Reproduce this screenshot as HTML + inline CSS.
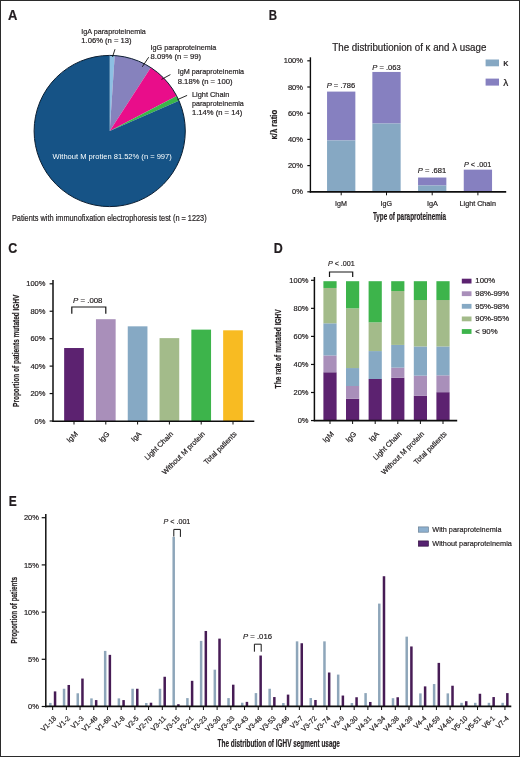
<!DOCTYPE html>
<html><head><meta charset="utf-8"><style>
html,body{margin:0;padding:0;background:#fff;}
svg{display:block;}
text{font-family:"Liberation Sans",sans-serif;stroke:#231f20;stroke-width:0.2px;}
</style></head><body>
<svg width="520" height="757" viewBox="0 0 520 757">
<defs><filter id="sf" x="0" y="0" width="520" height="757" filterUnits="userSpaceOnUse"><feGaussianBlur stdDeviation="0.28"/></filter></defs>
<rect x="0" y="0" width="520" height="757" fill="#fff"/>
<g filter="url(#sf)">
<rect x="0" y="0" width="520" height="757" fill="#fff"/>
<text transform="translate(8.10,19.80) scale(0.9300,1)" font-size="14" font-weight="bold" font-style="normal" fill="#231f20" >A</text>
<text transform="translate(268.80,19.80) scale(0.8211,1)" font-size="14" font-weight="bold" font-style="normal" fill="#231f20" >B</text>
<text transform="translate(8.30,253.10) scale(0.8904,1)" font-size="14" font-weight="bold" font-style="normal" fill="#231f20" >C</text>
<text transform="translate(273.70,252.80) scale(0.8904,1)" font-size="14" font-weight="bold" font-style="normal" fill="#231f20" >D</text>
<text transform="translate(8.80,506.40) scale(0.8567,1)" font-size="14" font-weight="bold" font-style="normal" fill="#231f20" >E</text>
<path d="M109.70,131.00 L109.70,55.40 A75.6,75.6 0 0 1 114.73,55.57 Z" fill="#8dbfe3"/>
<path d="M109.70,131.00 L114.73,55.57 A75.6,75.6 0 0 1 150.81,67.55 Z" fill="#8682bd"/>
<path d="M109.70,131.00 L150.81,67.55 A75.6,75.6 0 0 1 176.69,95.96 Z" fill="#e9108a"/>
<path d="M109.70,131.00 L176.69,95.96 A75.6,75.6 0 0 1 179.03,100.84 Z" fill="#3bb54a"/>
<path d="M109.70,131.00 L179.03,100.84 A75.6,75.6 0 1 1 109.70,55.40 Z" fill="#125386"/>
<circle cx="109.7" cy="131.0" r="75.6" fill="none" stroke="#0e1f33" stroke-width="1"/>
<line x1="115.00" y1="49.20" x2="112.50" y2="56.90" stroke="#111111" stroke-width="0.9"/>
<line x1="148.70" y1="57.20" x2="142.30" y2="66.80" stroke="#111111" stroke-width="0.9"/>
<line x1="170.40" y1="74.60" x2="161.50" y2="79.40" stroke="#111111" stroke-width="0.9"/>
<line x1="187.10" y1="95.40" x2="177.50" y2="99.60" stroke="#111111" stroke-width="0.9"/>
<text transform="translate(81.30,33.80) scale(0.9007,1)" font-size="8.0" font-weight="normal" font-style="normal" fill="#231f20" >IgA paraproteinemia</text>
<text transform="translate(81.30,42.70) scale(0.9564,1)" font-size="8.0" font-weight="normal" font-style="normal" fill="#231f20" >1.06% (n = 13)</text>
<text transform="translate(150.60,49.90) scale(0.9035,1)" font-size="8.0" font-weight="normal" font-style="normal" fill="#231f20" >IgG paraproteinemia</text>
<text transform="translate(150.60,59.20) scale(0.9602,1)" font-size="8.0" font-weight="normal" font-style="normal" fill="#231f20" >8.09% (n = 99)</text>
<text transform="translate(177.70,74.40) scale(0.9063,1)" font-size="8.0" font-weight="normal" font-style="normal" fill="#231f20" >IgM paraproteinemia</text>
<text transform="translate(177.70,83.50) scale(0.9623,1)" font-size="8.0" font-weight="normal" font-style="normal" fill="#231f20" >8.18% (n = 100)</text>
<text transform="translate(191.90,96.90) scale(0.9266,1)" font-size="8.0" font-weight="normal" font-style="normal" fill="#231f20" >Light Chain</text>
<text transform="translate(191.90,106.20) scale(0.8977,1)" font-size="8.0" font-weight="normal" font-style="normal" fill="#231f20" >paraproteinemia</text>
<text transform="translate(191.90,115.20) scale(0.9564,1)" font-size="8.0" font-weight="normal" font-style="normal" fill="#231f20" >1.14% (n = 14)</text>
<text transform="translate(52.50,159.25) scale(0.9446,1)" font-size="8.0" font-weight="normal" font-style="normal" fill="#ffffff" style="stroke:none">Without M protien 81.52% (n = 997)</text>
<text transform="translate(11.90,220.90) scale(0.8552,1)" font-size="8.6" font-weight="normal" font-style="normal" fill="#231f20" >Patients with immunofixation electrophoresis test (n = 1223)</text>
<text transform="translate(332.30,50.80) scale(0.9767,1)" font-size="10" font-weight="normal" font-style="normal" fill="#231f20" >The distributionion of κ and λ usage</text>
<rect x="485.60" y="59.50" width="13.40" height="6.80" fill="#86a8c3"/>
<text transform="translate(503.20,66.00) scale(1.1067,1)" font-size="9" font-weight="normal" font-style="normal" fill="#231f20" >κ</text>
<rect x="485.60" y="78.60" width="13.40" height="7.00" fill="#8680c0"/>
<text transform="translate(503.20,85.80) scale(1.1111,1)" font-size="9" font-weight="normal" font-style="normal" fill="#231f20" >λ</text>
<rect x="327.05" y="91.59" width="28.30" height="48.86" fill="#8680c0"/>
<rect x="327.05" y="140.45" width="28.30" height="51.65" fill="#86a8c3"/>
<rect x="372.35" y="71.94" width="28.30" height="51.61" fill="#8680c0"/>
<rect x="372.35" y="123.55" width="28.30" height="68.55" fill="#86a8c3"/>
<rect x="418.05" y="177.52" width="28.30" height="7.99" fill="#8680c0"/>
<rect x="418.05" y="185.51" width="28.30" height="6.59" fill="#86a8c3"/>
<rect x="463.75" y="169.66" width="28.30" height="22.14" fill="#8680c0"/>
<line x1="310.40" y1="57.30" x2="310.40" y2="192.60" stroke="#111111" stroke-width="1.4"/>
<line x1="309.80" y1="191.90" x2="506.20" y2="191.90" stroke="#111111" stroke-width="1.6"/>
<line x1="307.30" y1="60.80" x2="310.40" y2="60.80" stroke="#111111" stroke-width="1.2"/>
<text transform="translate(283.71,63.40) scale(1.0000,1)" font-size="7.5" font-weight="normal" font-style="normal" fill="#231f20" >100%</text>
<line x1="307.30" y1="87.00" x2="310.40" y2="87.00" stroke="#111111" stroke-width="1.2"/>
<text transform="translate(287.89,89.60) scale(1.0000,1)" font-size="7.5" font-weight="normal" font-style="normal" fill="#231f20" >80%</text>
<line x1="307.30" y1="113.20" x2="310.40" y2="113.20" stroke="#111111" stroke-width="1.2"/>
<text transform="translate(287.89,115.80) scale(1.0000,1)" font-size="7.5" font-weight="normal" font-style="normal" fill="#231f20" >60%</text>
<line x1="307.30" y1="139.40" x2="310.40" y2="139.40" stroke="#111111" stroke-width="1.2"/>
<text transform="translate(287.89,142.00) scale(1.0000,1)" font-size="7.5" font-weight="normal" font-style="normal" fill="#231f20" >40%</text>
<line x1="307.30" y1="165.60" x2="310.40" y2="165.60" stroke="#111111" stroke-width="1.2"/>
<text transform="translate(287.89,168.20) scale(1.0000,1)" font-size="7.5" font-weight="normal" font-style="normal" fill="#231f20" >20%</text>
<line x1="307.30" y1="191.80" x2="310.40" y2="191.80" stroke="#111111" stroke-width="1.2"/>
<text transform="translate(292.06,194.40) scale(1.0000,1)" font-size="7.5" font-weight="normal" font-style="normal" fill="#231f20" >0%</text>
<line x1="341.20" y1="192.00" x2="341.20" y2="195.30" stroke="#111111" stroke-width="1.0"/>
<line x1="386.50" y1="192.00" x2="386.50" y2="195.30" stroke="#111111" stroke-width="1.0"/>
<line x1="432.20" y1="192.00" x2="432.20" y2="195.30" stroke="#111111" stroke-width="1.0"/>
<line x1="477.90" y1="192.00" x2="477.90" y2="195.30" stroke="#111111" stroke-width="1.0"/>
<text transform="translate(335.00,205.70) scale(0.9518,1)" font-size="7.5" font-weight="normal" font-style="normal" fill="#231f20" >IgM</text>
<text transform="translate(380.60,205.70) scale(0.9512,1)" font-size="7.5" font-weight="normal" font-style="normal" fill="#231f20" >IgG</text>
<text transform="translate(426.90,205.70) scale(0.9771,1)" font-size="7.5" font-weight="normal" font-style="normal" fill="#231f20" >IgA</text>
<text transform="translate(459.60,205.70) scale(0.9593,1)" font-size="7.5" font-weight="normal" font-style="normal" fill="#231f20" >Light Chain</text>
<text transform="translate(372.90,219.70) scale(0.6104,1)" font-size="10.4" font-weight="bold" font-style="normal" fill="#231f20" >Type of paraproteinemia</text>
<text transform="translate(277.00,139.60) rotate(-90) scale(0.8444,1)" font-size="9.2" font-weight="bold" fill="#231f20">κ/λ ratio</text>
<text transform="translate(326.70,87.50) scale(0.9493,1)" font-size="8.0" fill="#231f20"><tspan font-style="italic">P</tspan> = .786</text>
<text transform="translate(372.30,69.60) scale(0.9493,1)" font-size="8.0" fill="#231f20"><tspan font-style="italic">P</tspan> = .063</text>
<text transform="translate(417.80,172.50) scale(0.9493,1)" font-size="8.0" fill="#231f20"><tspan font-style="italic">P</tspan> = .681</text>
<text transform="translate(464.00,166.50) scale(0.9094,1)" font-size="8.0" fill="#231f20"><tspan font-style="italic">P</tspan> &lt; .001</text>
<rect x="64.15" y="348.01" width="19.70" height="72.99" fill="#5b2470"/>
<rect x="95.95" y="319.20" width="19.70" height="101.80" fill="#a98fba"/>
<rect x="127.75" y="326.33" width="19.70" height="94.67" fill="#86a9c4"/>
<rect x="159.55" y="338.13" width="19.70" height="82.87" fill="#a3bb8a"/>
<rect x="191.35" y="329.62" width="19.70" height="91.38" fill="#3cb44c"/>
<rect x="223.15" y="330.31" width="19.70" height="90.69" fill="#f8bb22"/>
<line x1="53.00" y1="280.00" x2="53.00" y2="421.80" stroke="#111111" stroke-width="1.5"/>
<line x1="52.30" y1="421.20" x2="254.30" y2="421.20" stroke="#111111" stroke-width="1.6"/>
<line x1="49.60" y1="283.80" x2="53.00" y2="283.80" stroke="#111111" stroke-width="1.2"/>
<text transform="translate(26.21,286.40) scale(1.0000,1)" font-size="7.5" font-weight="normal" font-style="normal" fill="#231f20" >100%</text>
<line x1="49.60" y1="311.24" x2="53.00" y2="311.24" stroke="#111111" stroke-width="1.2"/>
<text transform="translate(30.39,313.84) scale(1.0000,1)" font-size="7.5" font-weight="normal" font-style="normal" fill="#231f20" >80%</text>
<line x1="49.60" y1="338.68" x2="53.00" y2="338.68" stroke="#111111" stroke-width="1.2"/>
<text transform="translate(30.39,341.28) scale(1.0000,1)" font-size="7.5" font-weight="normal" font-style="normal" fill="#231f20" >60%</text>
<line x1="49.60" y1="366.12" x2="53.00" y2="366.12" stroke="#111111" stroke-width="1.2"/>
<text transform="translate(30.39,368.72) scale(1.0000,1)" font-size="7.5" font-weight="normal" font-style="normal" fill="#231f20" >40%</text>
<line x1="49.60" y1="393.56" x2="53.00" y2="393.56" stroke="#111111" stroke-width="1.2"/>
<text transform="translate(30.39,396.16) scale(1.0000,1)" font-size="7.5" font-weight="normal" font-style="normal" fill="#231f20" >20%</text>
<line x1="49.60" y1="421.00" x2="53.00" y2="421.00" stroke="#111111" stroke-width="1.2"/>
<text transform="translate(34.56,423.60) scale(1.0000,1)" font-size="7.5" font-weight="normal" font-style="normal" fill="#231f20" >0%</text>
<line x1="74.00" y1="421.00" x2="74.00" y2="424.50" stroke="#111111" stroke-width="1.0"/>
<line x1="105.80" y1="421.00" x2="105.80" y2="424.50" stroke="#111111" stroke-width="1.0"/>
<line x1="137.60" y1="421.00" x2="137.60" y2="424.50" stroke="#111111" stroke-width="1.0"/>
<line x1="169.40" y1="421.00" x2="169.40" y2="424.50" stroke="#111111" stroke-width="1.0"/>
<line x1="201.20" y1="421.00" x2="201.20" y2="424.50" stroke="#111111" stroke-width="1.0"/>
<line x1="233.00" y1="421.00" x2="233.00" y2="424.50" stroke="#111111" stroke-width="1.0"/>
<polyline points="71.80,313.70 71.80,307.00 105.80,307.00 105.80,313.70" fill="none" stroke="#161616" stroke-width="1.2"/>
<text transform="translate(73.00,303.45) scale(0.9826,1)" font-size="8.0" fill="#231f20"><tspan font-style="italic">P</tspan> = .008</text>
<text transform="translate(18.50,406.90) rotate(-90) scale(0.7218,1)" font-size="9.0" font-weight="bold" fill="#231f20">Proportion of patients mutated IGHV</text>
<text transform="translate(78.20,434.50) rotate(-45) scale(1.000,1)" font-size="7.3" text-anchor="end" fill="#231f20">IgM</text>
<text transform="translate(110.00,434.50) rotate(-45) scale(1.000,1)" font-size="7.3" text-anchor="end" fill="#231f20">IgG</text>
<text transform="translate(141.80,434.50) rotate(-45) scale(1.000,1)" font-size="7.3" text-anchor="end" fill="#231f20">IgA</text>
<text transform="translate(173.60,434.50) rotate(-45) scale(1.000,1)" font-size="7.3" text-anchor="end" fill="#231f20">Light Chain</text>
<text transform="translate(205.40,434.50) rotate(-45) scale(1.000,1)" font-size="7.3" text-anchor="end" fill="#231f20">Without M protein</text>
<text transform="translate(237.20,434.50) rotate(-45) scale(1.000,1)" font-size="7.3" text-anchor="end" fill="#231f20">Total patients</text>
<rect x="323.40" y="372.25" width="13.20" height="48.26" fill="#5b2470"/>
<rect x="323.40" y="355.42" width="13.20" height="16.84" fill="#a98fba"/>
<rect x="323.40" y="323.31" width="13.20" height="32.13" fill="#86a9c4"/>
<rect x="323.40" y="287.96" width="13.20" height="35.35" fill="#a3bb8a"/>
<rect x="323.40" y="281.20" width="13.20" height="6.77" fill="#3cb44c"/>
<rect x="346.00" y="398.76" width="13.20" height="21.75" fill="#5b2470"/>
<rect x="346.00" y="386.00" width="13.20" height="12.77" fill="#a98fba"/>
<rect x="346.00" y="368.05" width="13.20" height="17.96" fill="#86a9c4"/>
<rect x="346.00" y="308.30" width="13.20" height="59.76" fill="#a3bb8a"/>
<rect x="346.00" y="281.20" width="13.20" height="27.11" fill="#3cb44c"/>
<rect x="368.60" y="378.99" width="13.20" height="41.52" fill="#5b2470"/>
<rect x="368.60" y="351.08" width="13.20" height="27.92" fill="#86a9c4"/>
<rect x="368.60" y="322.32" width="13.20" height="28.76" fill="#a3bb8a"/>
<rect x="368.60" y="281.20" width="13.20" height="41.13" fill="#3cb44c"/>
<rect x="391.20" y="377.72" width="13.20" height="42.79" fill="#5b2470"/>
<rect x="391.20" y="367.63" width="13.20" height="10.11" fill="#a98fba"/>
<rect x="391.20" y="344.91" width="13.20" height="22.73" fill="#86a9c4"/>
<rect x="391.20" y="291.05" width="13.20" height="53.87" fill="#a3bb8a"/>
<rect x="391.20" y="281.20" width="13.20" height="9.86" fill="#3cb44c"/>
<rect x="413.80" y="395.82" width="13.20" height="24.69" fill="#5b2470"/>
<rect x="413.80" y="375.62" width="13.20" height="20.21" fill="#a98fba"/>
<rect x="413.80" y="346.45" width="13.20" height="29.18" fill="#86a9c4"/>
<rect x="413.80" y="300.03" width="13.20" height="46.43" fill="#a3bb8a"/>
<rect x="413.80" y="281.20" width="13.20" height="18.84" fill="#3cb44c"/>
<rect x="436.40" y="392.17" width="13.20" height="28.34" fill="#5b2470"/>
<rect x="436.40" y="375.34" width="13.20" height="16.84" fill="#a98fba"/>
<rect x="436.40" y="346.45" width="13.20" height="28.90" fill="#86a9c4"/>
<rect x="436.40" y="300.03" width="13.20" height="46.43" fill="#a3bb8a"/>
<rect x="436.40" y="281.20" width="13.20" height="18.84" fill="#3cb44c"/>
<line x1="314.40" y1="277.00" x2="314.40" y2="421.20" stroke="#111111" stroke-width="1.5"/>
<line x1="313.70" y1="420.60" x2="457.20" y2="420.60" stroke="#111111" stroke-width="1.6"/>
<line x1="311.00" y1="280.30" x2="314.40" y2="280.30" stroke="#111111" stroke-width="1.2"/>
<text transform="translate(289.31,282.90) scale(1.0000,1)" font-size="7.5" font-weight="normal" font-style="normal" fill="#231f20" >100%</text>
<line x1="311.00" y1="308.35" x2="314.40" y2="308.35" stroke="#111111" stroke-width="1.2"/>
<text transform="translate(293.49,310.95) scale(1.0000,1)" font-size="7.5" font-weight="normal" font-style="normal" fill="#231f20" >80%</text>
<line x1="311.00" y1="336.40" x2="314.40" y2="336.40" stroke="#111111" stroke-width="1.2"/>
<text transform="translate(293.49,339.00) scale(1.0000,1)" font-size="7.5" font-weight="normal" font-style="normal" fill="#231f20" >60%</text>
<line x1="311.00" y1="364.45" x2="314.40" y2="364.45" stroke="#111111" stroke-width="1.2"/>
<text transform="translate(293.49,367.05) scale(1.0000,1)" font-size="7.5" font-weight="normal" font-style="normal" fill="#231f20" >40%</text>
<line x1="311.00" y1="392.50" x2="314.40" y2="392.50" stroke="#111111" stroke-width="1.2"/>
<text transform="translate(293.49,395.10) scale(1.0000,1)" font-size="7.5" font-weight="normal" font-style="normal" fill="#231f20" >20%</text>
<line x1="311.00" y1="420.55" x2="314.40" y2="420.55" stroke="#111111" stroke-width="1.2"/>
<text transform="translate(297.66,423.15) scale(1.0000,1)" font-size="7.5" font-weight="normal" font-style="normal" fill="#231f20" >0%</text>
<line x1="330.00" y1="420.50" x2="330.00" y2="424.00" stroke="#111111" stroke-width="1.0"/>
<line x1="352.60" y1="420.50" x2="352.60" y2="424.00" stroke="#111111" stroke-width="1.0"/>
<line x1="375.20" y1="420.50" x2="375.20" y2="424.00" stroke="#111111" stroke-width="1.0"/>
<line x1="397.80" y1="420.50" x2="397.80" y2="424.00" stroke="#111111" stroke-width="1.0"/>
<line x1="420.40" y1="420.50" x2="420.40" y2="424.00" stroke="#111111" stroke-width="1.0"/>
<line x1="443.00" y1="420.50" x2="443.00" y2="424.00" stroke="#111111" stroke-width="1.0"/>
<polyline points="329.50,277.10 329.50,272.00 352.70,272.00 352.70,277.10" fill="none" stroke="#161616" stroke-width="1.2"/>
<text transform="translate(327.90,266.20) scale(0.8960,1)" font-size="8.0" fill="#231f20"><tspan font-style="italic">P</tspan> &lt; .001</text>
<text transform="translate(280.90,388.40) rotate(-90) scale(0.7351,1)" font-size="9.0" font-weight="bold" fill="#231f20">The rate of mutated IGHV</text>
<text transform="translate(334.20,434.50) rotate(-45) scale(1.000,1)" font-size="7.3" text-anchor="end" fill="#231f20">IgM</text>
<text transform="translate(356.80,434.50) rotate(-45) scale(1.000,1)" font-size="7.3" text-anchor="end" fill="#231f20">IgG</text>
<text transform="translate(379.40,434.50) rotate(-45) scale(1.000,1)" font-size="7.3" text-anchor="end" fill="#231f20">IgA</text>
<text transform="translate(402.00,434.50) rotate(-45) scale(1.000,1)" font-size="7.3" text-anchor="end" fill="#231f20">Light Chain</text>
<text transform="translate(424.60,434.50) rotate(-45) scale(1.000,1)" font-size="7.3" text-anchor="end" fill="#231f20">Without M protein</text>
<text transform="translate(447.20,434.50) rotate(-45) scale(1.000,1)" font-size="7.3" text-anchor="end" fill="#231f20">Total patients</text>
<rect x="461.80" y="278.70" width="9.70" height="4.80" fill="#5b2470"/>
<text transform="translate(475.30,283.30) scale(1.0000,1)" font-size="7.8" font-weight="normal" font-style="normal" fill="#231f20" >100%</text>
<rect x="461.80" y="291.30" width="9.70" height="4.80" fill="#a98fba"/>
<text transform="translate(475.30,295.90) scale(1.0000,1)" font-size="7.8" font-weight="normal" font-style="normal" fill="#231f20" >98%-99%</text>
<rect x="461.80" y="303.90" width="9.70" height="4.80" fill="#86a9c4"/>
<text transform="translate(475.30,308.50) scale(1.0000,1)" font-size="7.8" font-weight="normal" font-style="normal" fill="#231f20" >95%-98%</text>
<rect x="461.80" y="316.50" width="9.70" height="4.80" fill="#a3bb8a"/>
<text transform="translate(475.30,321.10) scale(1.0000,1)" font-size="7.8" font-weight="normal" font-style="normal" fill="#231f20" >90%-95%</text>
<rect x="461.80" y="329.10" width="9.70" height="4.80" fill="#3cb44c"/>
<text transform="translate(475.30,333.70) scale(1.0000,1)" font-size="7.8" font-weight="normal" font-style="normal" fill="#231f20" >&lt; 90%</text>
<rect x="49.10" y="702.91" width="2.50" height="3.59" fill="#8ea6ba"/>
<rect x="53.80" y="691.40" width="2.50" height="15.10" fill="#461a55"/>
<rect x="62.81" y="688.75" width="2.50" height="17.75" fill="#8ea6ba"/>
<rect x="67.51" y="684.98" width="2.50" height="21.52" fill="#461a55"/>
<rect x="76.51" y="693.28" width="2.50" height="13.22" fill="#8ea6ba"/>
<rect x="81.21" y="678.56" width="2.50" height="27.94" fill="#461a55"/>
<rect x="90.22" y="698.38" width="2.50" height="8.12" fill="#8ea6ba"/>
<rect x="94.92" y="700.08" width="2.50" height="6.42" fill="#461a55"/>
<rect x="103.92" y="650.90" width="2.50" height="55.60" fill="#8ea6ba"/>
<rect x="108.62" y="654.86" width="2.50" height="51.64" fill="#461a55"/>
<rect x="117.63" y="698.38" width="2.50" height="8.12" fill="#8ea6ba"/>
<rect x="122.33" y="700.08" width="2.50" height="6.42" fill="#461a55"/>
<rect x="131.34" y="688.75" width="2.50" height="17.75" fill="#8ea6ba"/>
<rect x="136.04" y="688.75" width="2.50" height="17.75" fill="#461a55"/>
<rect x="145.04" y="703.01" width="2.50" height="3.49" fill="#8ea6ba"/>
<rect x="149.74" y="702.72" width="2.50" height="3.78" fill="#461a55"/>
<rect x="158.75" y="688.75" width="2.50" height="17.75" fill="#8ea6ba"/>
<rect x="163.45" y="676.76" width="2.50" height="29.74" fill="#461a55"/>
<rect x="172.45" y="536.86" width="2.50" height="169.64" fill="#8ea6ba"/>
<rect x="177.15" y="704.23" width="2.50" height="2.27" fill="#461a55"/>
<rect x="186.16" y="698.10" width="2.50" height="8.40" fill="#8ea6ba"/>
<rect x="190.86" y="680.82" width="2.50" height="25.68" fill="#461a55"/>
<rect x="199.87" y="640.89" width="2.50" height="65.61" fill="#8ea6ba"/>
<rect x="204.57" y="630.98" width="2.50" height="75.52" fill="#461a55"/>
<rect x="213.57" y="669.68" width="2.50" height="36.82" fill="#8ea6ba"/>
<rect x="218.27" y="638.63" width="2.50" height="67.87" fill="#461a55"/>
<rect x="227.28" y="698.10" width="2.50" height="8.40" fill="#8ea6ba"/>
<rect x="231.98" y="684.69" width="2.50" height="21.81" fill="#461a55"/>
<rect x="240.98" y="702.72" width="2.50" height="3.78" fill="#8ea6ba"/>
<rect x="245.68" y="701.87" width="2.50" height="4.63" fill="#461a55"/>
<rect x="254.69" y="693.10" width="2.50" height="13.40" fill="#8ea6ba"/>
<rect x="259.39" y="655.52" width="2.50" height="50.98" fill="#461a55"/>
<rect x="268.40" y="688.75" width="2.50" height="17.75" fill="#8ea6ba"/>
<rect x="273.10" y="697.06" width="2.50" height="9.44" fill="#461a55"/>
<rect x="282.10" y="703.01" width="2.50" height="3.49" fill="#8ea6ba"/>
<rect x="286.80" y="694.61" width="2.50" height="11.89" fill="#461a55"/>
<rect x="295.81" y="641.36" width="2.50" height="65.14" fill="#8ea6ba"/>
<rect x="300.51" y="643.25" width="2.50" height="63.25" fill="#461a55"/>
<rect x="309.51" y="698.00" width="2.50" height="8.50" fill="#8ea6ba"/>
<rect x="314.21" y="699.99" width="2.50" height="6.51" fill="#461a55"/>
<rect x="323.22" y="641.36" width="2.50" height="65.14" fill="#8ea6ba"/>
<rect x="327.92" y="672.52" width="2.50" height="33.98" fill="#461a55"/>
<rect x="336.93" y="674.59" width="2.50" height="31.91" fill="#8ea6ba"/>
<rect x="341.63" y="695.55" width="2.50" height="10.95" fill="#461a55"/>
<rect x="350.63" y="703.01" width="2.50" height="3.49" fill="#8ea6ba"/>
<rect x="355.33" y="697.25" width="2.50" height="9.25" fill="#461a55"/>
<rect x="364.34" y="693.10" width="2.50" height="13.40" fill="#8ea6ba"/>
<rect x="369.04" y="701.97" width="2.50" height="4.53" fill="#461a55"/>
<rect x="378.04" y="603.60" width="2.50" height="102.90" fill="#8ea6ba"/>
<rect x="382.74" y="576.23" width="2.50" height="130.27" fill="#461a55"/>
<rect x="391.75" y="698.19" width="2.50" height="8.31" fill="#8ea6ba"/>
<rect x="396.45" y="697.25" width="2.50" height="9.25" fill="#461a55"/>
<rect x="405.46" y="636.64" width="2.50" height="69.86" fill="#8ea6ba"/>
<rect x="410.16" y="646.46" width="2.50" height="60.04" fill="#461a55"/>
<rect x="419.16" y="693.38" width="2.50" height="13.12" fill="#8ea6ba"/>
<rect x="423.86" y="686.39" width="2.50" height="20.11" fill="#461a55"/>
<rect x="432.87" y="684.03" width="2.50" height="22.47" fill="#8ea6ba"/>
<rect x="437.57" y="662.89" width="2.50" height="43.61" fill="#461a55"/>
<rect x="446.57" y="693.38" width="2.50" height="13.12" fill="#8ea6ba"/>
<rect x="451.27" y="685.73" width="2.50" height="20.77" fill="#461a55"/>
<rect x="460.28" y="702.82" width="2.50" height="3.68" fill="#8ea6ba"/>
<rect x="464.98" y="701.21" width="2.50" height="5.29" fill="#461a55"/>
<rect x="473.99" y="702.82" width="2.50" height="3.68" fill="#8ea6ba"/>
<rect x="478.69" y="693.76" width="2.50" height="12.74" fill="#461a55"/>
<rect x="487.69" y="702.82" width="2.50" height="3.68" fill="#8ea6ba"/>
<rect x="492.39" y="697.06" width="2.50" height="9.44" fill="#461a55"/>
<rect x="501.40" y="702.82" width="2.50" height="3.68" fill="#8ea6ba"/>
<rect x="506.10" y="693.10" width="2.50" height="13.40" fill="#461a55"/>
<line x1="45.80" y1="514.00" x2="45.80" y2="707.20" stroke="#111111" stroke-width="1.5"/>
<line x1="45.10" y1="706.40" x2="511.30" y2="706.40" stroke="#111111" stroke-width="1.6"/>
<line x1="41.70" y1="706.50" x2="45.80" y2="706.50" stroke="#111111" stroke-width="1.2"/>
<text transform="translate(28.06,709.10) scale(1.0000,1)" font-size="7.5" font-weight="normal" font-style="normal" fill="#231f20" >0%</text>
<line x1="41.70" y1="659.30" x2="45.80" y2="659.30" stroke="#111111" stroke-width="1.2"/>
<text transform="translate(28.06,661.90) scale(1.0000,1)" font-size="7.5" font-weight="normal" font-style="normal" fill="#231f20" >5%</text>
<line x1="41.70" y1="612.10" x2="45.80" y2="612.10" stroke="#111111" stroke-width="1.2"/>
<text transform="translate(23.89,614.70) scale(1.0000,1)" font-size="7.5" font-weight="normal" font-style="normal" fill="#231f20" >10%</text>
<line x1="41.70" y1="564.90" x2="45.80" y2="564.90" stroke="#111111" stroke-width="1.2"/>
<text transform="translate(23.89,567.50) scale(1.0000,1)" font-size="7.5" font-weight="normal" font-style="normal" fill="#231f20" >15%</text>
<line x1="41.70" y1="517.70" x2="45.80" y2="517.70" stroke="#111111" stroke-width="1.2"/>
<text transform="translate(23.89,520.30) scale(1.0000,1)" font-size="7.5" font-weight="normal" font-style="normal" fill="#231f20" >20%</text>
<line x1="52.65" y1="706.40" x2="52.65" y2="710.00" stroke="#111111" stroke-width="1.0"/>
<line x1="66.36" y1="706.40" x2="66.36" y2="710.00" stroke="#111111" stroke-width="1.0"/>
<line x1="80.06" y1="706.40" x2="80.06" y2="710.00" stroke="#111111" stroke-width="1.0"/>
<line x1="93.77" y1="706.40" x2="93.77" y2="710.00" stroke="#111111" stroke-width="1.0"/>
<line x1="107.47" y1="706.40" x2="107.47" y2="710.00" stroke="#111111" stroke-width="1.0"/>
<line x1="121.18" y1="706.40" x2="121.18" y2="710.00" stroke="#111111" stroke-width="1.0"/>
<line x1="134.89" y1="706.40" x2="134.89" y2="710.00" stroke="#111111" stroke-width="1.0"/>
<line x1="148.59" y1="706.40" x2="148.59" y2="710.00" stroke="#111111" stroke-width="1.0"/>
<line x1="162.30" y1="706.40" x2="162.30" y2="710.00" stroke="#111111" stroke-width="1.0"/>
<line x1="176.00" y1="706.40" x2="176.00" y2="710.00" stroke="#111111" stroke-width="1.0"/>
<line x1="189.71" y1="706.40" x2="189.71" y2="710.00" stroke="#111111" stroke-width="1.0"/>
<line x1="203.42" y1="706.40" x2="203.42" y2="710.00" stroke="#111111" stroke-width="1.0"/>
<line x1="217.12" y1="706.40" x2="217.12" y2="710.00" stroke="#111111" stroke-width="1.0"/>
<line x1="230.83" y1="706.40" x2="230.83" y2="710.00" stroke="#111111" stroke-width="1.0"/>
<line x1="244.53" y1="706.40" x2="244.53" y2="710.00" stroke="#111111" stroke-width="1.0"/>
<line x1="258.24" y1="706.40" x2="258.24" y2="710.00" stroke="#111111" stroke-width="1.0"/>
<line x1="271.95" y1="706.40" x2="271.95" y2="710.00" stroke="#111111" stroke-width="1.0"/>
<line x1="285.65" y1="706.40" x2="285.65" y2="710.00" stroke="#111111" stroke-width="1.0"/>
<line x1="299.36" y1="706.40" x2="299.36" y2="710.00" stroke="#111111" stroke-width="1.0"/>
<line x1="313.06" y1="706.40" x2="313.06" y2="710.00" stroke="#111111" stroke-width="1.0"/>
<line x1="326.77" y1="706.40" x2="326.77" y2="710.00" stroke="#111111" stroke-width="1.0"/>
<line x1="340.48" y1="706.40" x2="340.48" y2="710.00" stroke="#111111" stroke-width="1.0"/>
<line x1="354.18" y1="706.40" x2="354.18" y2="710.00" stroke="#111111" stroke-width="1.0"/>
<line x1="367.89" y1="706.40" x2="367.89" y2="710.00" stroke="#111111" stroke-width="1.0"/>
<line x1="381.59" y1="706.40" x2="381.59" y2="710.00" stroke="#111111" stroke-width="1.0"/>
<line x1="395.30" y1="706.40" x2="395.30" y2="710.00" stroke="#111111" stroke-width="1.0"/>
<line x1="409.01" y1="706.40" x2="409.01" y2="710.00" stroke="#111111" stroke-width="1.0"/>
<line x1="422.71" y1="706.40" x2="422.71" y2="710.00" stroke="#111111" stroke-width="1.0"/>
<line x1="436.42" y1="706.40" x2="436.42" y2="710.00" stroke="#111111" stroke-width="1.0"/>
<line x1="450.12" y1="706.40" x2="450.12" y2="710.00" stroke="#111111" stroke-width="1.0"/>
<line x1="463.83" y1="706.40" x2="463.83" y2="710.00" stroke="#111111" stroke-width="1.0"/>
<line x1="477.54" y1="706.40" x2="477.54" y2="710.00" stroke="#111111" stroke-width="1.0"/>
<line x1="491.24" y1="706.40" x2="491.24" y2="710.00" stroke="#111111" stroke-width="1.0"/>
<line x1="504.95" y1="706.40" x2="504.95" y2="710.00" stroke="#111111" stroke-width="1.0"/>
<text transform="translate(56.85,718.80) rotate(-45) scale(1.000,1)" font-size="7.0" text-anchor="end" fill="#231f20">V1-18</text>
<text transform="translate(70.56,718.80) rotate(-45) scale(1.000,1)" font-size="7.0" text-anchor="end" fill="#231f20">V1-2</text>
<text transform="translate(84.26,718.80) rotate(-45) scale(1.000,1)" font-size="7.0" text-anchor="end" fill="#231f20">V1-3</text>
<text transform="translate(97.97,718.80) rotate(-45) scale(1.000,1)" font-size="7.0" text-anchor="end" fill="#231f20">V1-46</text>
<text transform="translate(111.67,718.80) rotate(-45) scale(1.000,1)" font-size="7.0" text-anchor="end" fill="#231f20">V1-69</text>
<text transform="translate(125.38,718.80) rotate(-45) scale(1.000,1)" font-size="7.0" text-anchor="end" fill="#231f20">V1-8</text>
<text transform="translate(139.09,718.80) rotate(-45) scale(1.000,1)" font-size="7.0" text-anchor="end" fill="#231f20">V2-5</text>
<text transform="translate(152.79,718.80) rotate(-45) scale(1.000,1)" font-size="7.0" text-anchor="end" fill="#231f20">V2-70</text>
<text transform="translate(166.50,718.80) rotate(-45) scale(1.000,1)" font-size="7.0" text-anchor="end" fill="#231f20">V3-11</text>
<text transform="translate(180.20,718.80) rotate(-45) scale(1.000,1)" font-size="7.0" text-anchor="end" fill="#231f20">V3-15</text>
<text transform="translate(193.91,718.80) rotate(-45) scale(1.000,1)" font-size="7.0" text-anchor="end" fill="#231f20">V3-21</text>
<text transform="translate(207.62,718.80) rotate(-45) scale(1.000,1)" font-size="7.0" text-anchor="end" fill="#231f20">V3-23</text>
<text transform="translate(221.32,718.80) rotate(-45) scale(1.000,1)" font-size="7.0" text-anchor="end" fill="#231f20">V3-30</text>
<text transform="translate(235.03,718.80) rotate(-45) scale(1.000,1)" font-size="7.0" text-anchor="end" fill="#231f20">V3-33</text>
<text transform="translate(248.73,718.80) rotate(-45) scale(1.000,1)" font-size="7.0" text-anchor="end" fill="#231f20">V3-43</text>
<text transform="translate(262.44,718.80) rotate(-45) scale(1.000,1)" font-size="7.0" text-anchor="end" fill="#231f20">V3-48</text>
<text transform="translate(276.15,718.80) rotate(-45) scale(1.000,1)" font-size="7.0" text-anchor="end" fill="#231f20">V3-53</text>
<text transform="translate(289.85,718.80) rotate(-45) scale(1.000,1)" font-size="7.0" text-anchor="end" fill="#231f20">V3-66</text>
<text transform="translate(303.56,718.80) rotate(-45) scale(1.000,1)" font-size="7.0" text-anchor="end" fill="#231f20">V3-7</text>
<text transform="translate(317.26,718.80) rotate(-45) scale(1.000,1)" font-size="7.0" text-anchor="end" fill="#231f20">V3-72</text>
<text transform="translate(330.97,718.80) rotate(-45) scale(1.000,1)" font-size="7.0" text-anchor="end" fill="#231f20">V3-74</text>
<text transform="translate(344.68,718.80) rotate(-45) scale(1.000,1)" font-size="7.0" text-anchor="end" fill="#231f20">V3-9</text>
<text transform="translate(358.38,718.80) rotate(-45) scale(1.000,1)" font-size="7.0" text-anchor="end" fill="#231f20">V4-30</text>
<text transform="translate(372.09,718.80) rotate(-45) scale(1.000,1)" font-size="7.0" text-anchor="end" fill="#231f20">V4-31</text>
<text transform="translate(385.79,718.80) rotate(-45) scale(1.000,1)" font-size="7.0" text-anchor="end" fill="#231f20">V4-34</text>
<text transform="translate(399.50,718.80) rotate(-45) scale(1.000,1)" font-size="7.0" text-anchor="end" fill="#231f20">V4-38</text>
<text transform="translate(413.21,718.80) rotate(-45) scale(1.000,1)" font-size="7.0" text-anchor="end" fill="#231f20">V4-39</text>
<text transform="translate(426.91,718.80) rotate(-45) scale(1.000,1)" font-size="7.0" text-anchor="end" fill="#231f20">V4-4</text>
<text transform="translate(440.62,718.80) rotate(-45) scale(1.000,1)" font-size="7.0" text-anchor="end" fill="#231f20">V4-59</text>
<text transform="translate(454.32,718.80) rotate(-45) scale(1.000,1)" font-size="7.0" text-anchor="end" fill="#231f20">V4-61</text>
<text transform="translate(468.03,718.80) rotate(-45) scale(1.000,1)" font-size="7.0" text-anchor="end" fill="#231f20">V5-10</text>
<text transform="translate(481.74,718.80) rotate(-45) scale(1.000,1)" font-size="7.0" text-anchor="end" fill="#231f20">V5-51</text>
<text transform="translate(495.44,718.80) rotate(-45) scale(1.000,1)" font-size="7.0" text-anchor="end" fill="#231f20">V6-1</text>
<text transform="translate(509.15,718.80) rotate(-45) scale(1.000,1)" font-size="7.0" text-anchor="end" fill="#231f20">V7-4</text>
<text transform="translate(217.60,746.80) scale(0.6433,1)" font-size="10" font-weight="bold" font-style="normal" fill="#231f20" >The distribution of IGHV segment usage</text>
<text transform="translate(16.90,643.60) rotate(-90) scale(0.6527,1)" font-size="9.8" font-weight="bold" fill="#231f20">Proportion of patients</text>
<polyline points="173.80,536.50 173.80,529.40 180.40,529.40 180.40,536.90" fill="none" stroke="#161616" stroke-width="1.0"/>
<text transform="translate(163.50,524.30) scale(0.8960,1)" font-size="8.0" fill="#231f20"><tspan font-style="italic">P</tspan> &lt; .001</text>
<polyline points="254.40,651.70 254.40,644.20 261.20,644.20 261.20,651.70" fill="none" stroke="#161616" stroke-width="1.0"/>
<text transform="translate(243.00,638.90) scale(0.9660,1)" font-size="8.0" fill="#231f20"><tspan font-style="italic">P</tspan> = .016</text>
<rect x="418.3" y="526.9" width="10.2" height="5.3" fill="#8db0cf" stroke="#5f7689" stroke-width="0.6"/>
<text transform="translate(432.30,532.30) scale(0.9347,1)" font-size="7.8" font-weight="normal" font-style="normal" fill="#231f20" >With paraproteinemia</text>
<rect x="418.3" y="540.9" width="10.2" height="5.3" fill="#55226f" stroke="#2a0c38" stroke-width="0.6"/>
<text transform="translate(432.30,546.30) scale(0.9379,1)" font-size="7.8" font-weight="normal" font-style="normal" fill="#231f20" >Without paraproteinemia</text>
</g>
<rect x="0.5" y="0.5" width="519" height="756" fill="none" stroke="#2b2b2b" stroke-width="1"/>
</svg>
</body></html>
